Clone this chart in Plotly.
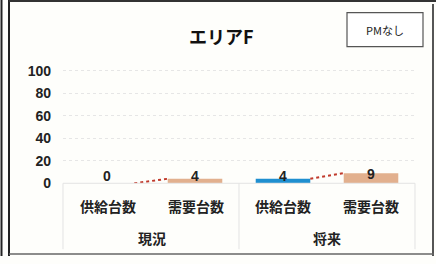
import plotly.graph_objects as go

categories = ["供給台数", "需要台数", "供給台数", "需要台数"]
groups = ["現況", "将来"]
values = [0, 4, 4, 9]
bar_colors = ["#1f8fd0", "#e2b08e", "#1f8fd0", "#e2b08e"]
y_ticks = [0, 20, 40, 60, 80, 100]
title = "エリアF"
badge = "PMなし"

W, H = 436, 264
X0, X1 = 63, 415
Y0, YT = 189, 60
YMAX = 100 * (Y0 - YT) / (189 - 73)
BW = 0.62

def px(x):
    return x / W

def py(y):
    return 1 - y / H

jp = "Noto Sans CJK JP"
fig = go.Figure()
xs = list(range(len(categories)))
fig.add_trace(go.Bar(x=xs, y=values, width=BW, marker=dict(color=bar_colors, line=dict(width=0)),
                     showlegend=False, hoverinfo="skip"))
# series lines connecting supply to demand
for i in (0, 2):
    fig.add_trace(go.Scatter(x=[xs[i] + BW / 2, xs[i + 1] - BW / 2], y=[values[i], values[i + 1]],
                             mode="lines", line=dict(color="#c0392b", width=2, dash="dot"),
                             showlegend=False, hoverinfo="skip"))
for i, v in enumerate(values):
    fig.add_annotation(x=xs[i], y=max(v, 7.5), text=f"<b>{v}</b>", showarrow=False, xanchor="center",
                       yanchor="middle", yshift=-1,
                       font=dict(family="Liberation Sans", size=14, color="#222"))

shapes = []
line_c = "#e3e3e3"
# category box
shapes.append(dict(type="line", xref="paper", yref="paper", x0=px(X0), x1=px(X1), y0=py(Y0), y1=py(Y0),
                   line=dict(color=line_c, width=1)))
for xv in (X0, (X0 + X1) / 2, X1):
    shapes.append(dict(type="line", xref="paper", yref="paper", x0=px(xv), x1=px(xv), y0=py(Y0), y1=py(257),
                       line=dict(color=line_c, width=1)))
# outer frame
shapes.append(dict(type="line", xref="paper", yref="paper", x0=px(1.5), x1=px(1.5), y0=0, y1=1, line=dict(color="#222", width=2)))
shapes.append(dict(type="line", xref="paper", yref="paper", x0=px(9), x1=px(9), y0=0, y1=1, line=dict(color="#222", width=2)))
shapes.append(dict(type="line", xref="paper", yref="paper", x0=px(9), x1=1, y0=py(1), y1=py(1), line=dict(color="#333", width=2)))
shapes.append(dict(type="line", xref="paper", yref="paper", x0=px(433), x1=px(433), y0=py(4), y1=0, line=dict(color="#555", width=2)))
shapes.append(dict(type="line", xref="paper", yref="paper", x0=px(9), x1=px(434), y0=py(262), y1=py(262), line=dict(color="#666", width=1.5)))
# badge box
shapes.append(dict(type="rect", xref="paper", yref="paper", x0=px(347), x1=px(423), y0=py(48), y1=py(13),
                   line=dict(color="#555", width=1.2), fillcolor="white"))

anns = []
anns.append(dict(xref="paper", yref="paper", x=px(221), y=py(37), text=f"<b>{title}</b>", showarrow=False,
                 font=dict(family=jp, size=18, color="#111")))
anns.append(dict(xref="paper", yref="paper", x=px(385), y=py(30.5), text=badge, showarrow=False,
                 font=dict(family=jp, size=11, color="#222")))
cat_x = [108, 196, 283, 371]
for c, xv in zip(categories, cat_x):
    anns.append(dict(xref="paper", yref="paper", x=px(xv), y=py(212), text=f"<b>{c}</b>", showarrow=False,
                     font=dict(family=jp, size=14, color="#222")))
for g, xv in zip(groups, [152, 327]):
    anns.append(dict(xref="paper", yref="paper", x=px(xv), y=py(245), text=f"<b>{g}</b>", showarrow=False,
                     font=dict(family=jp, size=14, color="#222")))
for a in anns:
    fig.add_annotation(xanchor="center", yanchor="middle", **a)

fig.update_layout(
    width=W, height=H, autosize=False,
    margin=dict(l=0, r=0, t=0, b=0, pad=0),
    paper_bgcolor="#fefefb", plot_bgcolor="rgba(0,0,0,0)",
    shapes=shapes,
    xaxis=dict(domain=[px(X0), px(X1)], range=[-0.5, 3.5], showticklabels=False, showgrid=False,
               zeroline=False, showline=False, fixedrange=True),
    yaxis=dict(domain=[py(Y0), py(YT)], range=[0, YMAX], tickvals=y_ticks,
               ticktext=[f"<b>{t}</b>" for t in y_ticks],
               tickfont=dict(family="Liberation Sans", size=14, color="#222"),
               showgrid=True, gridcolor="#e6e6e6", griddash="dot", gridwidth=1,
               zeroline=False, showline=False, ticks="", ticklabelstandoff=11, fixedrange=True),
)
fig.write_html("out.html", config={"displayModeBar": False},
               post_script="document.body.style.margin='0';document.body.style.padding='0';")
